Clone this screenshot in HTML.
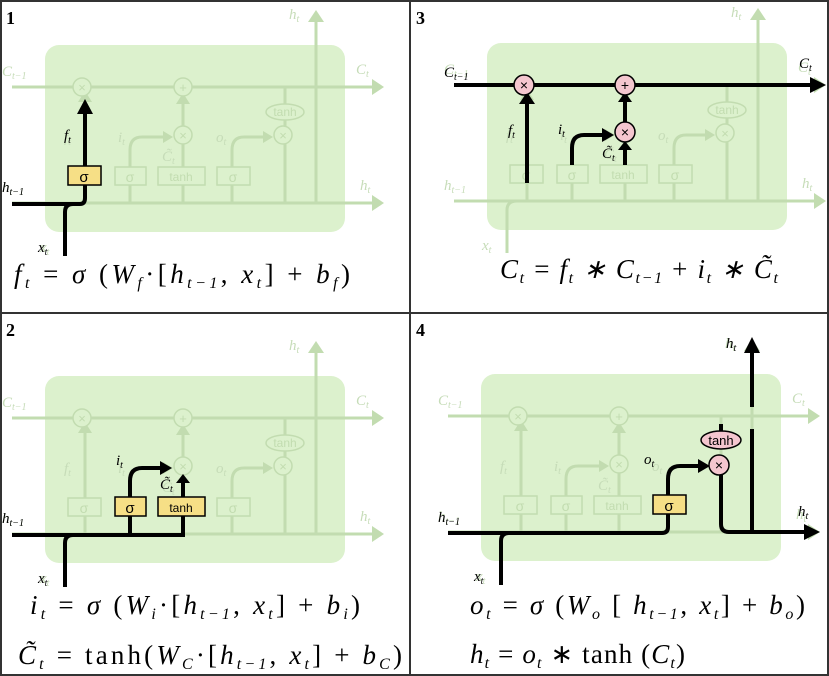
<!DOCTYPE html>
<html><head><meta charset="utf-8"><style>
html,body{margin:0;padding:0;background:#fff}
svg{display:block}
text{font-family:"Liberation Serif",serif}
.s{font-family:"Liberation Sans",sans-serif;font-style:normal}
</style></head><body>
<svg width="829" height="676" viewBox="0 0 829 676" xmlns="http://www.w3.org/2000/svg">
<defs>
<g id="cell">
<rect x="45" y="45" width="300" height="187" rx="14" fill="#dcf1cd"/>
<g stroke="#c2dcb0" stroke-width="3" fill="none">
<line x1="12" y1="87" x2="372" y2="87"/>
<line x1="12" y1="203" x2="372" y2="203"/>
<line x1="316" y1="203" x2="316" y2="22"/>
<path d="M65,255 V212 Q65,203 75,203"/>
<line x1="85" y1="203" x2="85" y2="100"/>
<path d="M130,203 V150 Q130,137 142,137 H165"/>
<line x1="183" y1="203" x2="183" y2="102"/>
<path d="M232,203 V150 Q232,137 244,137 H265"/>
<path d="M285,87 V203 Q285,203 300,203"/>
</g>
<g fill="#c2dcb0"><path d="M372,79 L384,87 L372,95z"/><path d="M372,195 L384,203 L372,211z"/><path d="M308,22 L316,10 L324,22z"/><path d="M78,102 L85,91 L92,102z"/><path d="M176,104 L183,93 L190,104z"/><path d="M163,131 L173,137 L163,143z"/><path d="M263,131 L273,137 L263,143z"/></g>
<g fill="#dcf1cd" stroke="#c2dcb0" stroke-width="1.5">
<circle cx="82" cy="87" r="9"/><circle cx="183" cy="87" r="9"/><circle cx="183" cy="135" r="9"/><circle cx="283" cy="135" r="9"/>
<ellipse cx="285" cy="112" rx="19" ry="8"/>
<rect x="68" y="167" width="33" height="18"/><rect x="115" y="167" width="31" height="18"/><rect x="158" y="167" width="47" height="18"/><rect x="217" y="167" width="33" height="18"/>
</g>
<g fill="#c2dcb0" font-size="13" class="s" text-anchor="middle">
<text x="82" y="92" class="s">×</text><text x="183" y="92" class="s">+</text><text x="183" y="140" class="s">×</text><text x="283" y="140" class="s">×</text>
<text x="285" y="116" font-size="12" class="s">tanh</text>
<text x="84" y="182" font-size="14" class="s">σ</text><text x="130" y="182" font-size="14" class="s">σ</text><text x="181" y="181" font-size="12" class="s">tanh</text><text x="233" y="182" font-size="14" class="s">σ</text>
</g>
<g fill="#c6dcb8" font-style="italic" font-size="15">
<text x="2" y="76">C<tspan font-size="10" dy="3">t−1</tspan></text>
<text x="356" y="74">C<tspan font-size="10" dy="3">t</tspan></text>
<text x="289" y="19">h<tspan font-size="10" dy="3">t</tspan></text>
<text x="360" y="190">h<tspan font-size="10" dy="3">t</tspan></text>
<text x="118" y="142">i<tspan font-size="10" dy="3">t</tspan></text>
<text x="216" y="142">o<tspan font-size="10" dy="3">t</tspan></text>
<text x="64" y="142">f<tspan font-size="10" dy="3">t</tspan></text>
<text x="162" y="161">C̃<tspan font-size="10" dy="3">t</tspan></text>
<text x="2" y="192">h<tspan font-size="10" dy="3">t−1</tspan></text>
<text x="40" y="252">x<tspan font-size="10" dy="3">t</tspan></text>
</g>
</g>
</defs>

<!-- Panel 1 -->
<use href="#cell"/>
<g stroke="#000" stroke-width="4" fill="none">
<path d="M12,204 H80 Q85,204 85,198 V112"/>
<path d="M65,256 V212 Q65,204 73,204"/>
</g>
<path d="M77,114 L85,99 L93,114z"/>
<rect x="68" y="166" width="33" height="19" fill="#f6df86" stroke="#000" stroke-width="1.5"/>
<text x="84" y="182" font-size="15" class="s" text-anchor="middle">σ</text>
<g font-style="italic" font-size="15"><text x="64" y="140">f<tspan font-size="10" dy="3">t</tspan></text><text x="2" y="192">h<tspan font-size="10" dy="3">t−1</tspan></text><text x="38" y="252">x<tspan font-size="10" dy="3">t</tspan></text></g>
<text x="6" y="24" font-size="18" font-weight="bold">1</text>
<text x="14" y="283" font-size="27" font-style="italic" textLength="336" lengthAdjust="spacing">f<tspan font-size="16" dy="5">t</tspan><tspan dy="-5" font-style="normal"> = </tspan>σ<tspan font-style="normal"> (</tspan>W<tspan font-size="16" dy="5">f</tspan><tspan dy="-5" font-style="normal">·[</tspan>h<tspan font-size="16" dy="5">t−1</tspan><tspan dy="-5" font-style="normal">, </tspan>x<tspan font-size="16" dy="5">t</tspan><tspan dy="-5" font-style="normal">]  +  </tspan>b<tspan font-size="16" dy="5">f</tspan><tspan dy="-5" font-style="normal">)</tspan></text>

<!-- Panel 3 -->
<g transform="translate(442,-2)">
<use href="#cell"/>
<g stroke="#000" stroke-width="4" fill="none">
<line x1="12" y1="87" x2="370" y2="87"/>
<line x1="85" y1="185" x2="85" y2="102"/>
<path d="M130,167 V150 Q130,137 142,137 H162"/>
<line x1="183" y1="167" x2="183" y2="148"/>
<line x1="183" y1="125" x2="183" y2="102"/>
</g>
<path d="M368,79 L384,87 L368,95z"/><path d="M77,106 L85,94 L93,106z"/><path d="M160,130 L172,137 L160,144z"/><path d="M176,152 L183,143 L190,152z"/><path d="M176,104 L183,94 L190,104z"/>
<g fill="#f4c6cf" stroke="#000" stroke-width="1.5"><circle cx="82" cy="87" r="10"/><circle cx="183" cy="87" r="10"/><circle cx="183" cy="134" r="10"/></g>
<g font-size="14" class="s" text-anchor="middle"><text x="82" y="92" class="s">×</text><text x="183" y="92" class="s">+</text><text x="183" y="139" class="s">×</text></g>
<g font-style="italic" font-size="15"><text x="2" y="79">C<tspan font-size="10" dy="3">t−1</tspan></text><text x="357" y="70">C<tspan font-size="10" dy="3">t</tspan></text><text x="66" y="137">f<tspan font-size="10" dy="3">t</tspan></text><text x="116" y="136">i<tspan font-size="10" dy="3">t</tspan></text><text x="160" y="160">C̃<tspan font-size="10" dy="3">t</tspan></text></g>
</g>
<text x="416" y="24" font-size="18" font-weight="bold">3</text>
<text x="500" y="278" font-size="27" font-style="italic" textLength="278" lengthAdjust="spacing">C<tspan font-size="16" dy="5">t</tspan><tspan dy="-5" font-style="normal"> = </tspan>f<tspan font-size="16" dy="5">t</tspan><tspan dy="-5"> ∗ </tspan>C<tspan font-size="16" dy="5">t−1</tspan><tspan dy="-5" font-style="normal"> + </tspan>i<tspan font-size="16" dy="5">t</tspan><tspan dy="-5"> ∗ </tspan>C̃<tspan font-size="16" dy="5">t</tspan></text>

<!-- Panel 2 -->
<g transform="translate(0,331)">
<use href="#cell"/>
<g stroke="#000" stroke-width="4" fill="none">
<path d="M12,204 H183 V185"/>
<path d="M130,204 V168"/>
<path d="M65,256 V212 Q65,204 73,204"/>
<path d="M130,167 V150 Q130,137 142,137 H162"/>
<line x1="183" y1="167" x2="183" y2="148"/>
</g>
<path d="M160,130 L172,137 L160,144z"/><path d="M176,152 L183,143 L190,152z"/>
<rect x="115" y="166" width="31" height="19" fill="#f6df86" stroke="#000" stroke-width="1.5"/>
<rect x="158" y="166" width="47" height="19" fill="#f6df86" stroke="#000" stroke-width="1.5"/>
<text x="130" y="182" font-size="15" class="s" text-anchor="middle">σ</text><text x="181" y="181" font-size="12" class="s" text-anchor="middle">tanh</text>
<g font-style="italic" font-size="15"><text x="116" y="134">i<tspan font-size="10" dy="3">t</tspan></text><text x="160" y="158">C̃<tspan font-size="10" dy="3">t</tspan></text><text x="2" y="192">h<tspan font-size="10" dy="3">t−1</tspan></text><text x="38" y="252">x<tspan font-size="10" dy="3">t</tspan></text></g>
</g>
<text x="6" y="336" font-size="18" font-weight="bold">2</text>
<text x="30" y="614" font-size="27" font-style="italic" textLength="330" lengthAdjust="spacing">i<tspan font-size="16" dy="5">t</tspan><tspan dy="-5" font-style="normal"> = </tspan>σ<tspan font-style="normal"> (</tspan>W<tspan font-size="16" dy="5">i</tspan><tspan dy="-5" font-style="normal">·[</tspan>h<tspan font-size="16" dy="5">t−1</tspan><tspan dy="-5" font-style="normal">, </tspan>x<tspan font-size="16" dy="5">t</tspan><tspan dy="-5" font-style="normal">]  +  </tspan>b<tspan font-size="16" dy="5">i</tspan><tspan dy="-5" font-style="normal">)</tspan></text>
<text x="18" y="664" font-size="27" font-style="italic" textLength="384" lengthAdjust="spacing">C̃<tspan font-size="16" dy="5">t</tspan><tspan dy="-5" font-style="normal"> = tanh(</tspan>W<tspan font-size="16" dy="5">C</tspan><tspan dy="-5" font-style="normal">·[</tspan>h<tspan font-size="16" dy="5">t−1</tspan><tspan dy="-5" font-style="normal">, </tspan>x<tspan font-size="16" dy="5">t</tspan><tspan dy="-5" font-style="normal">]  +  </tspan>b<tspan font-size="16" dy="5">C</tspan><tspan dy="-5" font-style="normal">)</tspan></text>

<!-- Panel 4 -->
<g transform="translate(436,329)">
<use href="#cell"/>
<g stroke="#000" stroke-width="4" fill="none">
<path d="M12,204 H226 Q232,204 232,198 V185"/>
<path d="M65,256 V212 Q65,204 73,204"/>
<path d="M232,167 V150 Q232,137 244,137 H263"/>
<path d="M285,95 V104 M285,145 V195 Q285,203 293,203 H370"/>
<path d="M316,203 V100 M316,78 V22"/>
</g>
<path d="M368,195 L384,203 L368,211z"/><path d="M308,24 L316,8 L324,24z"/><path d="M262,130 L274,137 L262,144z"/>
<rect x="217" y="166" width="33" height="19" fill="#f6df86" stroke="#000" stroke-width="1.5"/>
<text x="233" y="182" font-size="15" class="s" text-anchor="middle">σ</text>
<ellipse cx="285" cy="111" rx="20" ry="9" fill="#f4c6cf" stroke="#000" stroke-width="1.5"/>
<text x="285" y="116" font-size="13" class="s" text-anchor="middle">tanh</text>
<circle cx="283" cy="136" r="10" fill="#f4c6cf" stroke="#000" stroke-width="1.5"/>
<text x="283" y="141" font-size="14" class="s" text-anchor="middle">×</text>
<g font-style="italic" font-size="15"><text x="208" y="135">o<tspan font-size="10" dy="3">t</tspan></text><text x="2" y="193">h<tspan font-size="10" dy="3">t−1</tspan></text><text x="38" y="252">x<tspan font-size="10" dy="3">t</tspan></text><text x="290" y="19">h<tspan font-size="10" dy="3">t</tspan></text><text x="362" y="187">h<tspan font-size="10" dy="3">t</tspan></text></g>
</g>
<text x="416" y="336" font-size="18" font-weight="bold">4</text>
<text x="470" y="614" font-size="27" font-style="italic" textLength="335" lengthAdjust="spacing">o<tspan font-size="16" dy="5">t</tspan><tspan dy="-5" font-style="normal"> = </tspan>σ<tspan font-style="normal"> (</tspan>W<tspan font-size="16" dy="5">o</tspan><tspan dy="-5" font-style="normal">  [ </tspan>h<tspan font-size="16" dy="5">t−1</tspan><tspan dy="-5" font-style="normal">, </tspan>x<tspan font-size="16" dy="5">t</tspan><tspan dy="-5" font-style="normal">]  +  </tspan>b<tspan font-size="16" dy="5">o</tspan><tspan dy="-5" font-style="normal">)</tspan></text>
<text x="470" y="663" font-size="27" font-style="italic" textLength="215" lengthAdjust="spacing">h<tspan font-size="16" dy="5">t</tspan><tspan dy="-5" font-style="normal"> = </tspan>o<tspan font-size="16" dy="5">t</tspan><tspan dy="-5" font-style="normal"> ∗ tanh (</tspan>C<tspan font-size="16" dy="5">t</tspan><tspan dy="-5" font-style="normal">)</tspan></text>

<!-- borders -->
<g stroke="#333" stroke-width="2" fill="none">
<rect x="1" y="1" width="827" height="674"/>
<line x1="410" y1="0" x2="410" y2="676"/>
<line x1="0" y1="313" x2="829" y2="313"/>
</g>
</svg>
</body></html>
